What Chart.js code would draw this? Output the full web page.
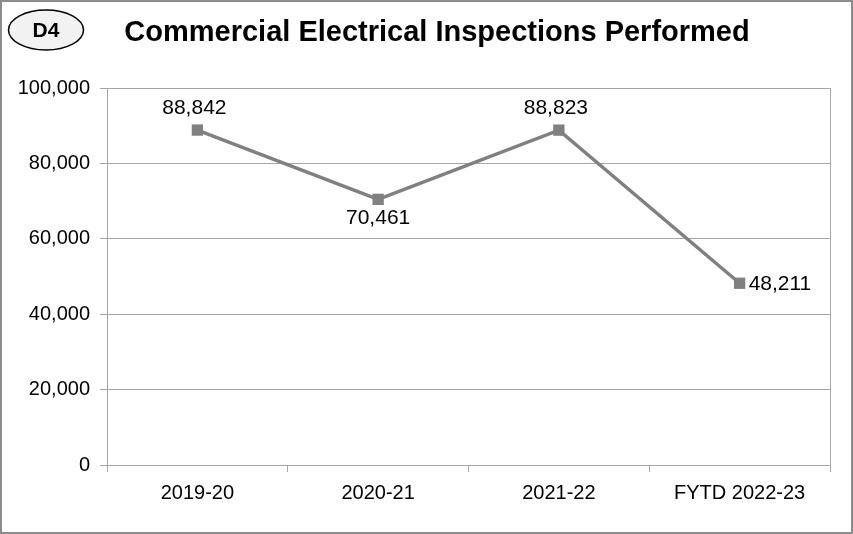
<!DOCTYPE html>
<html><head><meta charset="utf-8">
<script src="https://cdn.jsdelivr.net/npm/chart.js@4/dist/chart.umd.min.js"></script>
<style>html,body{margin:0;padding:0;background:#fff}#wrap{width:853px;height:534px;position:relative}</style>
</head><body><div id="wrap"><canvas id="c" width="853" height="534"></canvas></div>
<script>
const categories = ["2019-20", "2020-21", "2021-22", "FYTD 2022-23"];
const inspections = [88842, 70461, 88823, 48211];
const labelPositions = ["top", "bottom", "top", "right"];
const yTicks = [0, 20000, 40000, 60000, 80000, 100000];
const chartTitle = "Commercial Electrical Inspections Performed";
const badgeText = "D4";

const FONT = "'Liberation Sans', Arial, sans-serif";
const GRID = "#a6a6a6";

const deco = {
  id: "deco",
  beforeDraw(chart) {
    const ctx = chart.ctx;
    ctx.save();
    ctx.fillStyle = "#fff";
    ctx.fillRect(0, 0, chart.width, chart.height);
    ctx.restore();
  },
  afterDraw(chart) {
    const ctx = chart.ctx;
    const a = chart.chartArea;
    ctx.save();
    // right plot border
    ctx.strokeStyle = GRID; ctx.lineWidth = 1;
    ctx.beginPath(); ctx.moveTo(Math.round(a.right) + 0.5, a.top); ctx.lineTo(Math.round(a.right) + 0.5, a.bottom); ctx.stroke();
    // outer border
    ctx.strokeStyle = "#8c8c8c"; ctx.lineWidth = 2;
    ctx.strokeRect(1, 1, chart.width - 2, chart.height - 2);
    // badge
    ctx.beginPath();
    ctx.ellipse(46, 30, 37.5, 20, 0, 0, Math.PI * 2);
    ctx.fillStyle = "#f2f2f2"; ctx.fill();
    ctx.strokeStyle = "#000"; ctx.lineWidth = 1.5; ctx.stroke();
    ctx.fillStyle = "#000"; ctx.font = "bold 21px " + FONT;
    ctx.textAlign = "center"; ctx.textBaseline = "middle";
    ctx.fillText(badgeText, 46, 31);
    // title
    ctx.font = "bold 29px " + FONT;
    ctx.fillText(chartTitle, 437, 33);
    // data labels
    const meta = chart.getDatasetMeta(0);
    ctx.font = "21px " + FONT;
    meta.data.forEach((pt, i) => {
      const txt = inspections[i].toLocaleString("en-US");
      const pos = labelPositions[i];
      let x = pt.x, y = pt.y;
      ctx.textAlign = "center"; ctx.textBaseline = "middle";
      if (pos === "top") { y -= 22; x -= 3; }
      else if (pos === "bottom") { y += 19; }
      else if (pos === "right") { x += 9; y += 1; ctx.textAlign = "left"; }
      ctx.fillText(txt, x, y);
    });
    ctx.restore();
  }
};

new Chart(document.getElementById("c"), {
  type: "line",
  data: {
    labels: categories,
    datasets: [{
      data: inspections,
      borderColor: "#808080",
      backgroundColor: "#808080",
      borderWidth: 3.5,
      pointStyle: "rect",
      pointRadius: 8,
      pointHoverRadius: 8,
      pointBorderWidth: 0,
      tension: 0
    }]
  },
  options: {
    responsive: false,
    animation: false,
    events: [],
    layout: { padding: { top: 88, right: 23, left: 0, bottom: 0 } },
    plugins: { legend: { display: false }, tooltip: { enabled: false }, title: { display: false } },
    scales: {
      x: {
        offset: true,
        grid: { drawOnChartArea: false, drawTicks: true, offset: true, tickLength: 7, color: GRID },
        border: { color: GRID, width: 1 },
        ticks: { color: "#000", font: { family: FONT, size: 20 }, padding: 9, maxRotation: 0 },
        afterFit(s) { s.height = 69; }
      },
      y: {
        min: 0, max: 100000,
        afterBuildTicks(s) { s.ticks = yTicks.map(v => ({ value: v })); },
        grid: { color: GRID, tickLength: 7, drawTicks: true },
        border: { color: GRID, width: 1 },
        ticks: { color: "#000", font: { family: FONT, size: 20 }, padding: 10,
          callback: v => Number(v).toLocaleString("en-US") },
        afterFit(s) { s.width = 107; }
      }
    }
  },
  plugins: [deco]
});
</script></body></html>
